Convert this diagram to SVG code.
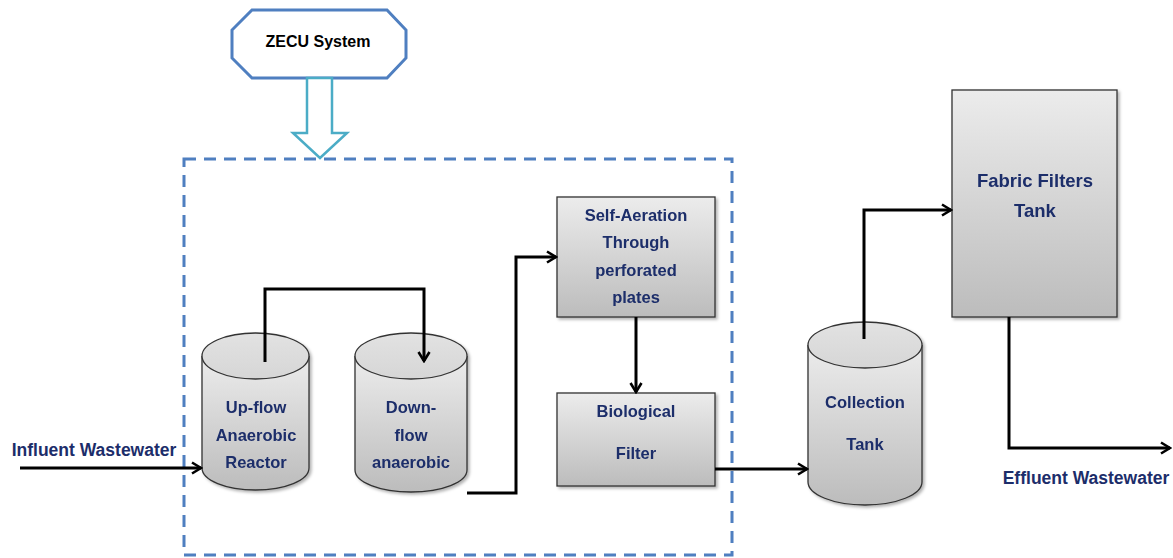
<svg xmlns="http://www.w3.org/2000/svg" width="1173" height="558" viewBox="0 0 1173 558">
<style>
.lbl{font-family:"Liberation Sans",Arial,sans-serif;font-weight:bold;font-size:16.5px;fill:#1c2d6a;text-anchor:middle}
.big{font-size:18.5px}
.io{font-size:17.5px}
.box{fill:url(#g);stroke:#333;stroke-width:1.3}
.top{fill:url(#gt);stroke:#333;stroke-width:1.3}
.con{fill:none;stroke:#000;stroke-width:3;marker-end:url(#ah)}
</style>
<defs>
<linearGradient id="g" x1="0" y1="0" x2="0" y2="1"><stop offset="0" stop-color="#ececec"/><stop offset="1" stop-color="#bcbcbc"/></linearGradient>
<linearGradient id="gt" x1="0" y1="0" x2="0" y2="1"><stop offset="0" stop-color="#e2e2e2"/><stop offset="1" stop-color="#d6d6d6"/></linearGradient>
<filter id="sh" x="-10%" y="-10%" width="130%" height="130%"><feDropShadow dx="2" dy="2" stdDeviation="1.5" flood-color="#000" flood-opacity="0.3"/></filter>
<marker id="ah" viewBox="0 0 14 14" refX="12" refY="7" markerWidth="14" markerHeight="14" markerUnits="userSpaceOnUse" orient="auto"><path d="M3,1.5 L12,7 L3,12.5" fill="none" stroke="#000" stroke-width="2.6"/></marker>
</defs>
<rect width="1173" height="558" fill="#fff"/>

<g id="zecu">
<polygon points="252,10 387,10 406,30 406,58 387,78 252,78 232,58 232,30" fill="#fff" stroke="#4f7fc0" stroke-width="3"/>
<text x="318" y="47" class="lbl" style="fill:#000;font-size:16px">ZECU System</text>
<polygon points="307,78 332,78 332,133 347,133 320,158 293,133 307,133" fill="#fff" stroke="#4bacc6" stroke-width="2.5" stroke-linejoin="miter"/>
</g>

<g id="zecu-boundary">
<rect x="184" y="159" width="548" height="396" fill="none" stroke="#4f7fc0" stroke-width="3" stroke-dasharray="12,8"/>
</g>

<g id="upflow" filter="url(#sh)">
<path class="box" d="M202,356 L202,468 A53.5,22 0 0 0 309,468 L309,356"/>
<ellipse class="top" cx="255.5" cy="356" rx="53.5" ry="23"/>
<text class="lbl" x="256" y="413">Up-flow</text>
<text class="lbl" x="256" y="441">Anaerobic</text>
<text class="lbl" x="256" y="468">Reactor</text>
</g>

<g id="downflow" filter="url(#sh)">
<path class="box" d="M355,356 L355,470 A56,22 0 0 0 467,470 L467,356"/>
<ellipse class="top" cx="411" cy="356" rx="56" ry="23"/>
<text class="lbl" x="411" y="413">Down-</text>
<text class="lbl" x="411" y="441">flow</text>
<text class="lbl" x="411" y="468">anaerobic</text>
</g>

<g id="selfaeration" filter="url(#sh)">
<rect class="box" x="557" y="197" width="158" height="120"/>
<text class="lbl" x="636" y="221">Self-Aeration</text>
<text class="lbl" x="636" y="248">Through</text>
<text class="lbl" x="636" y="276">perforated</text>
<text class="lbl" x="636" y="303">plates</text>
</g>

<g id="biofilter" filter="url(#sh)">
<rect class="box" x="557" y="393" width="158" height="93"/>
<text class="lbl" x="636" y="417">Biological</text>
<text class="lbl" x="636" y="459">Filter</text>
</g>

<g id="collection" filter="url(#sh)">
<path class="box" d="M808,345 L808,482 A57,23 0 0 0 922,482 L922,345"/>
<ellipse class="top" cx="865" cy="345" rx="57" ry="23"/>
<text class="lbl" x="865" y="408">Collection</text>
<text class="lbl" x="865" y="450">Tank</text>
</g>

<g id="fabric" filter="url(#sh)">
<rect class="box" x="952" y="90" width="165" height="227"/>
<text class="lbl big" x="1035" y="187">Fabric Filters</text>
<text class="lbl big" x="1035" y="217">Tank</text>
</g>

<g id="labels">
<text class="lbl io" x="94" y="456">Influent Wastewater</text>
<text class="lbl io" x="1086" y="484">Effluent  Wastewater</text>
</g>

<g id="connectors">
<path class="con" d="M20,468 L201,468"/>
<path class="con" d="M265,362 L265,289 L424,289 L424,361"/>
<path class="con" d="M467,493 L516,493 L516,257 L556,257"/>
<path class="con" d="M636,317 L636,392"/>
<path class="con" d="M715,469 L807,469"/>
<path class="con" d="M864,339 L864,210 L951,210"/>
<path class="con" d="M1009,317 L1009,448 L1170,448"/>
</g>
</svg>
